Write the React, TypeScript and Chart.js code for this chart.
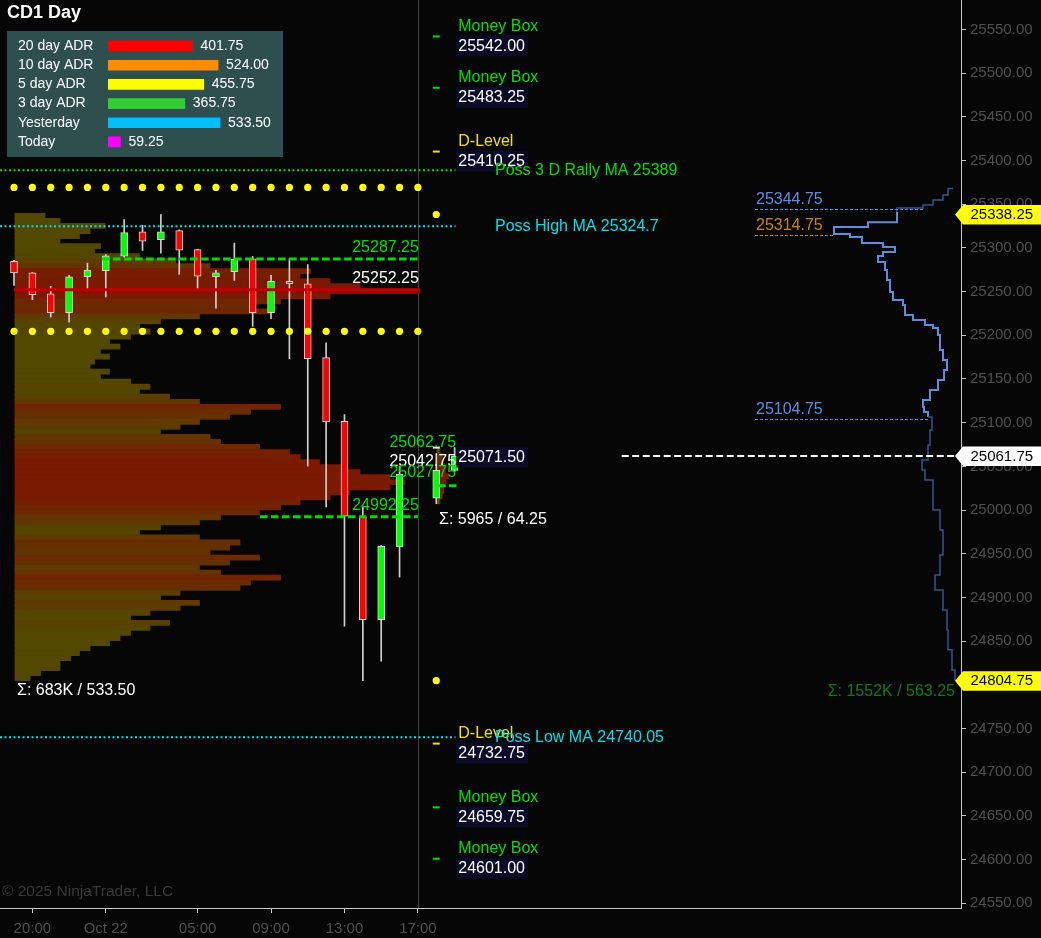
import React, { useEffect, useRef } from 'react';
import { Chart, registerables } from 'chart.js';

Chart.register(...registerables);

const FONT = '"Liberation Sans", Arial, Helvetica, sans-serif';

// ---------- axis ranges ----------
const Y_MIN = 24544.6;
const Y_MAX = 25583.7;
const X_MIN = -0.7625;
const X_MAX = 51.58;

// ---------- time axis ----------
const xTickIdx = [1, 5, 10, 14, 18, 22];
const xTickLabels = ['20:00', 'Oct 22', '05:00', '09:00', '13:00', '17:00'];
const SESSION_BREAK = 22;

// ---------- candles (hourly bars, index = bar slot) ----------
const candleIdx = [0, 1, 2, 3, 4, 5, 6, 7, 8, 9, 10, 11, 12, 13, 14, 15, 16, 17, 18, 19, 20, 21, 23, 24];
const opens = [25284.5, 25271.5, 25247.5, 25226.0, 25267.0, 25274.0, 25290.5, 25318.5, 25309.5, 25319.75, 25298.0, 25267.0, 25272.75, 25287.5, 25226.0, 25261.75, 25259.0, 25174.5, 25101.5, 24992.0, 24874.5, 24957.75, 25013.5, 25045.5];
const highs = [25285.75, 25272.0, 25256.0, 25268.5, 25282.5, 25292.5, 25332.5, 25325.75, 25338.25, 25320.75, 25298.5, 25274.25, 25305.5, 25290.25, 25268.5, 25287.5, 25281.0, 25191.5, 25109.25, 25003.0, 24959.5, 25050.0, 25064.75, 25071.5];
const lows = [25257.0, 25240.75, 25220.75, 25215.0, 25253.25, 25243.75, 25289.5, 25297.0, 25294.0, 25269.75, 25251.5, 25231.0, 25262.75, 25210.25, 25219.0, 25173.25, 25050.25, 25003.5, 24867.0, 24804.75, 24827.0, 24923.25, 25007.25, 25044.0];
const closes = [25271.5, 25246.5, 25226.0, 25267.0, 25274.25, 25291.0, 25317.5, 25307.75, 25318.5, 25297.5, 25267.75, 25271.5, 25287.0, 25226.0, 25261.75, 25259.0, 25173.25, 25100.75, 24993.0, 24874.5, 24958.5, 25041.0, 25045.5, 25061.75];

// ---------- prior high / low dots ----------
const dotIdx = [0, 1, 2, 3, 4, 5, 6, 7, 8, 9, 10, 11, 12, 13, 14, 15, 16, 17, 18, 19, 20, 21, 22, 23];
const dotHigh = [25369.25, 25369.25, 25369.25, 25369.25, 25369.25, 25369.25, 25369.25, 25369.25, 25369.25, 25369.25, 25369.25, 25369.25, 25369.25, 25369.25, 25369.25, 25369.25, 25369.25, 25369.25, 25369.25, 25369.25, 25369.25, 25369.25, 25369.25, 25338.25];
const dotLow = [25204.5, 25204.5, 25204.5, 25204.5, 25204.5, 25204.5, 25204.5, 25204.5, 25204.5, 25204.5, 25204.5, 25204.5, 25204.5, 25204.5, 25204.5, 25204.5, 25204.5, 25204.5, 25204.5, 25204.5, 25204.5, 25204.5, 25204.5, 24804.75];

// ---------- prior-session volume profile (K contracts per 5.75-pt row, top -> bottom) ----------
const PROFILE_LOW = 24804.75;
const PROFILE_ROW = 5.75;
const profileVolK = [
  2.0, 3.0, 6.0, 5.0, 4.3, 3.0, 5.7, 5.3, 8.3, 10.7,
  13.0, 19.7, 19.0, 21.0, 23.0, 27.0, 21.0, 17.7, 15.7, 17.0,
  12.3, 9.7, 8.3, 9.0, 7.7, 6.3, 7.0, 5.7, 6.3, 5.3,
  5.0, 6.3, 5.7, 7.7, 9.0, 8.3, 10.3, 12.3, 17.7, 15.7,
  14.3, 12.3, 11.0, 9.7, 13.0, 13.7, 16.3, 18.3, 19.0, 20.3,
  21.7, 23.0, 25.0, 26.0, 25.0, 22.3, 21.0, 19.0, 17.7, 16.3,
  13.7, 12.3, 9.7, 8.3, 12.3, 15.0, 14.3, 13.0, 16.3, 14.3,
  12.3, 13.7, 17.7, 15.7, 15.0, 11.0, 9.7, 12.3, 11.0, 9.0,
  7.7, 10.3, 9.0, 7.7, 7.0, 6.3, 5.0, 4.3, 3.7, 3.0,
  3.0, 1.7, 1.0,
];
// current-session profile
const CUR_LOW = 25007.25;
const curProfileVolK = [0.2, 0.35, 0.4, 0.5, 0.55, 0.75, 0.6, 0.45, 0.45, 0.35, 0.2];

// ---------- composite profile (right) ----------
const rpPrices = [25368.0, 25360.5, 25354.75, 25349.0, 25345.75, 25341.0, 25329.5, 25324.0, 25320.5, 25316.0, 25312.5, 25305.5, 25301.0, 25295.25, 25290.75, 25284.0, 25274.75, 25263.25, 25249.5, 25240.5, 25234.75, 25223.25, 25217.5, 25211.75, 25208.25, 25200.25, 25183.25, 25171.75, 25160.25, 25148.75, 25137.5, 25126.0, 25118.0, 25112.25, 25106.5, 25091.5, 25074.5, 25057.25, 25045.75, 25034.5, 25023.0, 25000.0, 24977.25, 24948.5, 24925.75, 24908.5, 24885.5, 24862.75, 24840.0, 24817.0, 24804.75];
const rpVolK = [4, 6.5, 9, 14, 19, 32, 32, 46.5, 63.5, 63.5, 55.5, 49.5, 39, 33, 39, 41.5, 38, 37, 35.5, 34, 29, 28, 24, 18, 14, 11.5, 10.5, 9, 7, 8.5, 11.5, 15.5, 19, 18.5, 16.5, 14.5, 15.5, 16.5, 19.5, 18, 14, 14, 10.5, 9, 10.5, 13, 9, 7, 6.5, 4.5, 3];
const RP_VAH = 25344.75;
const RP_POC = 25314.75;
const RP_VAL = 25104.75;

// ---------- levels ----------
const levelValues = [25542.0, 25483.25, 25410.25, 24732.75, 24659.75, 24601.0, 25071.5];
const levelTitles = ['Money Box', 'Money Box', 'D-Level', 'D-Level', 'Money Box', 'Money Box', ''];
const LEVEL_IDX = 23;

const maValues = [25389, 25324.7, 24740.05];
const maLabels = ['Poss 3 D Rally MA 25389', 'Poss High MA 25324.7', 'Poss Low MA 24740.05'];

const prevVAH = 25287.25;
const prevPOC = 25252.25;
const prevVAL = 24992.25;
const curVAH = 25062.75;
const curPOC = 25042.75;
const curVAL = 25027.75;
const LAST_PRICE = 25061.75;

const flagValues = [25338.25, 25061.75, 24804.75];

// ---------- ADR table ----------
const adrLabels = ['20 day ADR', '10 day ADR', '5 day ADR', '3 day ADR', 'Yesterday', 'Today'];
const adrValues = [401.75, 524.0, 455.75, 365.75, 533.5, 59.25];

// ---------- styles ----------
const UP = '#00ff00';
const DOWN = '#ff0000';
const WICK = '#cfcfcf';
const GREEN = '#00e000';
const YELLOW = '#f2e200';
const CYAN = '#00e0ea';
const RP_BRIGHT = '#5b8ee0';
const RP_DARK = '#34558f';
const RP_ORANGE = '#c8860a';
const AXIS_COL = '#c8c8c8';
const TICK_TEXT = '#505050';
const adrColors = ['#ff0000', '#ff8c00', '#ffff00', '#32cd32', '#00bfff', '#ff00ff'];
const maColors = [GREEN, CYAN, CYAN];
const flagFill = ['#ffff00', '#ffffff', '#ffff00'];

const fmt = (v: number) => v.toFixed(2);

function heat(v: number, vmax: number, poc: boolean) {
  if (poc) return 'rgb(140,12,0)';
  const t = Math.max(0, Math.min(1, (v / vmax - 0.3) / 0.45));
  const r = Math.round(82 + 40 * t);
  const g = Math.round(72 - 46 * t);
  return `rgb(${r},${g},0)`;
}

function levelColor(i: number) {
  if (levelTitles[i] === 'Money Box') return GREEN;
  if (levelTitles[i] === 'D-Level') return YELLOW;
  return '#ffffff';
}

function drawText(ctx: CanvasRenderingContext2D, s: string, x: number, y: number, color: string, align: CanvasTextAlign = 'left', font = `16px ${FONT}`) {
  ctx.font = font;
  ctx.fillStyle = color;
  ctx.textAlign = align;
  ctx.textBaseline = 'middle';
  ctx.fillText(s, x, y);
}

function hline(y: number, x0: number, x1: number, color: string, width: number, dash: number[], order = 2) {
  return {
    type: 'line', xAxisID: 'x', yAxisID: 'y',
    data: [{ x: x0, y }, { x: x1, y }],
    borderColor: color, borderWidth: width, borderDash: dash,
    pointRadius: 0, fill: false, order,
  };
}

const overlayPlugin = {
  id: 'overlay',
  beforeDatasetsDraw(chart: any) {
    const ctx = chart.ctx as CanvasRenderingContext2D;
    const xs = chart.scales.x;
    const px = Math.round(xs.getPixelForValue(SESSION_BREAK)) + 0.5;
    ctx.save();
    ctx.strokeStyle = '#3f3f3f';
    ctx.lineWidth = 1;
    ctx.beginPath();
    ctx.moveTo(px, 0);
    ctx.lineTo(px, chart.chartArea.bottom);
    ctx.stroke();
    ctx.restore();
  },
  afterDraw(chart: any) {
    const ctx = chart.ctx as CanvasRenderingContext2D;
    const xs = chart.scales.x, ys = chart.scales.y, xv = chart.scales.xv, xp = chart.scales.xp;
    const X = (i: number) => xs.getPixelForValue(i);
    const Y = (v: number) => ys.getPixelForValue(v);
    ctx.save();

    drawText(ctx, 'CD1 Day', 7, 13, '#ffffff', 'left', `bold 18px ${FONT}`);
    drawText(ctx, '\u00A9 2025 NinjaTrader, LLC', 2, 892, '#3a3a3a', 'left', `15.5px ${FONT}`);

    levelValues.forEach((v, i) => {
      const y = Y(v);
      const x0 = X(LEVEL_IDX) + 20;
      if (levelTitles[i]) drawText(ctx, levelTitles[i], x0 + 2, y - 10, levelColor(i));
      ctx.font = `16px ${FONT}`;
      const w = ctx.measureText(fmt(v)).width;
      ctx.fillStyle = '#0b0b28';
      ctx.fillRect(x0, y - 1, w + 5, 21);
      drawText(ctx, fmt(v), x0 + 2, y + 10, '#ffffff');
    });

    maValues.forEach((v, i) => drawText(ctx, maLabels[i], X(26.2), Y(v), maColors[i]));

    const pr = X(SESSION_BREAK) + 1;
    drawText(ctx, fmt(prevVAH), pr, Y(prevVAH) - 11, GREEN, 'right');
    drawText(ctx, fmt(prevPOC), pr, Y(prevPOC) - 11, '#ffffff', 'right');
    drawText(ctx, fmt(prevVAL), pr, Y(prevVAL) - 11.5, GREEN, 'right');
    const cr = X(24) + 1.5;
    drawText(ctx, fmt(curVAH), cr, Y(curVAH) - 13, GREEN, 'right');
    drawText(ctx, fmt(curPOC), cr, Y(curPOC) - 11, '#ffffff', 'right');
    drawText(ctx, fmt(curVAL), cr, Y(curVAL) - 13, GREEN, 'right');

    drawText(ctx, '\u03A3: 683K / 533.50', xp.getPixelForValue(0) + 2, Y(PROFILE_LOW) + 10, '#ffffff');
    drawText(ctx, '\u03A3: 5965 / 64.25', X(23.15), Y(CUR_LOW) + 16, '#ffffff');
    drawText(ctx, '\u03A3: 1552K / 563.25', xv.getPixelForValue(3), Y(rpPrices[rpPrices.length - 1]) + 11, '#147a14', 'right');

    const rpLevels = [RP_VAH, RP_POC, RP_VAL];
    const rpColors = [RP_BRIGHT, RP_ORANGE, RP_BRIGHT];
    rpLevels.forEach((v, i) => {
      let best = 0;
      rpPrices.forEach((p, k) => { if (Math.abs(p - v) < Math.abs(rpPrices[best] - v)) best = k; });
      const y = Math.round(Y(v)) + 0.5;
      const xs0 = xv.getPixelForValue(103);
      const xe = xv.getPixelForValue(rpVolK[best]);
      ctx.strokeStyle = rpColors[i];
      ctx.lineWidth = 1;
      ctx.setLineDash([3, 2]);
      ctx.beginPath();
      ctx.moveTo(xs0, y);
      ctx.lineTo(xe, y);
      ctx.stroke();
      ctx.setLineDash([]);
      drawText(ctx, fmt(v), xs0 + 1, y - 10, rpColors[i]);
    });

    flagValues.forEach((v, i) => {
      const y = Y(v);
      const xl = ys.left - 6;
      const xr = chart.width;
      ctx.fillStyle = flagFill[i];
      ctx.beginPath();
      ctx.moveTo(xl, y);
      ctx.lineTo(xl + 8, y - 9.5);
      ctx.lineTo(xr, y - 9.5);
      ctx.lineTo(xr, y + 10);
      ctx.lineTo(xl + 8, y + 10);
      ctx.closePath();
      ctx.fill();
      drawText(ctx, fmt(v), ys.left + 9.5, y + 0.5, '#000000', 'left', `15px ${FONT}`);
    });

    ctx.restore();
  },
};

function buildMain(): any {
  const rowPrices = profileVolK.map((_, k) => PROFILE_LOW + (profileVolK.length - k - 0.5) * PROFILE_ROW);
  const vmax = Math.max(...profileVolK);
  const pocRow = profileVolK.indexOf(vmax);
  const curRowPrices = curProfileVolK.map((_, k) => CUR_LOW + (curProfileVolK.length - k - 0.5) * PROFILE_ROW);
  const cmax = Math.max(...curProfileVolK);
  const curPocRow = curProfileVolK.indexOf(cmax);
  const inVA = (p: number) => p <= RP_VAH + 0.01 && p >= RP_VAL - 0.01;

  const datasets: any[] = [
    // prior-session profile (behind candles)
    {
      type: 'bar', indexAxis: 'y', xAxisID: 'xp', yAxisID: 'yp',
      data: profileVolK.map((v, k) => ({ x: v, y: rowPrices[k] })),
      backgroundColor: profileVolK.map((v, k) => heat(v, vmax, k === pocRow)),
      borderWidth: 0, barPercentage: 1, categoryPercentage: 1, grouped: false, inflateAmount: 0.4, order: 10,
    },
    {
      type: 'bar', indexAxis: 'y', xAxisID: 'xc', yAxisID: 'yc',
      data: curProfileVolK.map((v, k) => ({ x: v, y: curRowPrices[k] })),
      backgroundColor: curProfileVolK.map((v, k) => heat(v, cmax, k === curPocRow)),
      borderWidth: 0, barPercentage: 1, categoryPercentage: 1, grouped: false, inflateAmount: 0.4, order: 10,
    },
    // wicks
    {
      type: 'bar', xAxisID: 'x', yAxisID: 'y',
      data: candleIdx.map((x, i) => ({ x, y: [lows[i], highs[i]] })),
      backgroundColor: WICK, borderWidth: 0, barThickness: 1, grouped: false, order: 9,
    },
    // bodies
    {
      type: 'bar', xAxisID: 'x', yAxisID: 'y',
      data: candleIdx.map((x, i) => ({ x, y: [opens[i], closes[i]] })),
      backgroundColor: candleIdx.map((_, i) => (closes[i] >= opens[i] ? UP : DOWN)),
      borderColor: '#d8d8d8', borderWidth: 1, borderSkipped: false,
      barThickness: 7, grouped: false, order: 8,
    },
    // level lines
    hline(prevPOC, 0, SESSION_BREAK, '#c00000', 3, []),
    hline(prevVAH, 4.8, SESSION_BREAK, GREEN, 3, [7.5, 3.5]),
    hline(prevVAL, 13.4, SESSION_BREAK, GREEN, 3, [7.5, 3.5]),
    hline(curVAL, 23.1, 24.1, GREEN, 3, [7.5, 3.5]),
    ...maValues.map((v, i) => hline(v, X_MIN, 24.05, maColors[i], 2, [2, 2.5])),
    hline(LAST_PRICE, 33.1, X_MAX, '#ffffff', 2, [7, 3.5]),
    // composite profile line
    {
      type: 'line', xAxisID: 'xv', yAxisID: 'y',
      data: rpPrices.map((p, i) => ({ x: rpVolK[i], y: p })),
      stepped: 'before', pointRadius: 0, borderWidth: 2, borderColor: RP_BRIGHT, fill: false,
      segment: {
        borderColor: (c: any) => (inVA(c.p0.parsed.y) && inVA(c.p1.parsed.y) ? RP_BRIGHT : RP_DARK),
        borderWidth: (c: any) => (inVA(c.p0.parsed.y) && inVA(c.p1.parsed.y) ? 2 : 1.5),
      },
      order: 2,
    },
    // prior high / low dots
    {
      type: 'line', xAxisID: 'x', yAxisID: 'y', showLine: false,
      data: dotIdx.map((x, i) => ({ x, y: dotHigh[i] })),
      pointRadius: 3.6, pointBackgroundColor: '#ffff00', pointBorderWidth: 0, order: 1,
    },
    {
      type: 'line', xAxisID: 'x', yAxisID: 'y', showLine: false,
      data: dotIdx.map((x, i) => ({ x, y: dotLow[i] })),
      pointRadius: 3.6, pointBackgroundColor: '#ffff00', pointBorderWidth: 0, order: 1,
    },
    // level markers
    {
      type: 'line', xAxisID: 'x', yAxisID: 'y', showLine: false,
      data: levelValues.map((v) => ({ x: LEVEL_IDX, y: v })),
      pointStyle: 'line', pointRadius: 3.5, pointBorderWidth: 2,
      pointBorderColor: levelValues.map((_, i) => levelColor(i)),
      pointBackgroundColor: 'rgba(0,0,0,0)', order: 1,
    },
  ];

  const tickFont = { family: FONT, size: 15 };

  return {
    type: 'bar',
    data: { datasets },
    options: {
      responsive: false,
      animation: false,
      devicePixelRatio: 1,
      events: [],
      layout: { padding: 0, autoPadding: false },
      plugins: { legend: { display: false }, tooltip: { enabled: false } },
      scales: {
        x: {
          type: 'linear', axis: 'x', position: 'bottom', min: X_MIN, max: X_MAX, offset: false,
          afterFit: (s: any) => { s.height = 30; s.paddingLeft = 0; s.paddingRight = 0; },
          afterBuildTicks: (s: any) => { s.ticks = xTickIdx.map((value) => ({ value })); },
          ticks: {
            autoSkip: false, maxRotation: 0, minRotation: 0, color: TICK_TEXT, font: tickFont, padding: 7,
            callback: (v: any) => { const k = xTickIdx.indexOf(Number(v)); return k >= 0 ? xTickLabels[k] : ''; },
          },
          grid: { drawOnChartArea: false, drawTicks: true, tickLength: 5, color: AXIS_COL, offset: false },
          border: { display: true, color: AXIS_COL, width: 1 },
        },
        y: {
          type: 'linear', axis: 'y', position: 'right', min: Y_MIN, max: Y_MAX, offset: false,
          afterFit: (s: any) => { s.width = 80; s.paddingTop = 0; s.paddingBottom = 0; },
          ticks: {
            stepSize: 50, includeBounds: false, color: TICK_TEXT, font: tickFont, padding: 4,
            callback: (v: any) => Number(v).toFixed(2),
          },
          grid: { drawOnChartArea: false, drawTicks: true, tickLength: 5, color: AXIS_COL, offset: false },
          border: { display: true, color: AXIS_COL, width: 1 },
        },
        xp: { type: 'linear', axis: 'x', display: false, min: -1, max: 63.07, offset: false },
        yp: { type: 'linear', axis: 'y', display: false, min: Y_MIN, max: Y_MAX, offset: false },
        xc: { type: 'linear', axis: 'x', display: false, min: -29.13, max: 34.94, offset: false },
        yc: { type: 'linear', axis: 'y', display: false, min: Y_MIN, max: Y_MAX, offset: false },
        xv: { type: 'linear', axis: 'x', display: false, reverse: true, min: 0, max: 480.5, offset: false },
      },
    },
    plugins: [overlayPlugin],
  };
}

function buildLegend(): any {
  return {
    type: 'bar',
    data: {
      labels: adrLabels,
      datasets: [{ data: adrValues, backgroundColor: adrColors, borderWidth: 0, barThickness: 10 }],
    },
    options: {
      indexAxis: 'y',
      responsive: false,
      animation: false,
      devicePixelRatio: 1,
      events: [],
      layout: { padding: { left: 11, right: 0, top: 5.5, bottom: 5.5 }, autoPadding: false },
      plugins: { legend: { display: false }, tooltip: { enabled: false } },
      scales: {
        x: { display: false, min: 0, max: 833 },
        y: {
          afterFit: (s: any) => { s.width = 90; s.paddingTop = 0; s.paddingBottom = 0; },
          grid: { display: false, drawTicks: false },
          border: { display: false },
          ticks: { autoSkip: false, color: '#ffffff', crossAlign: 'far', padding: 0, font: { family: FONT, size: 14 } },
        },
      },
    },
    plugins: [
      {
        id: 'adrValues',
        afterDatasetsDraw(chart: any) {
          const ctx = chart.ctx as CanvasRenderingContext2D;
          const meta = chart.getDatasetMeta(0);
          ctx.save();
          meta.data.forEach((bar: any, i: number) => {
            drawText(ctx, adrValues[i].toFixed(2), bar.x + 8, bar.y, '#ffffff', 'left', `14px ${FONT}`);
          });
          ctx.restore();
        },
      },
    ],
  };
}

export default function App() {
  const mainRef = useRef<HTMLCanvasElement>(null);
  const legRef = useRef<HTMLCanvasElement>(null);

  useEffect(() => {
    const c1 = new Chart(mainRef.current as HTMLCanvasElement, buildMain());
    const c2 = new Chart(legRef.current as HTMLCanvasElement, buildLegend());
    return () => {
      c1.destroy();
      c2.destroy();
    };
  }, []);

  return (
    <div style={{ position: 'fixed', left: 0, top: 0, width: 1041, height: 938, background: '#060606', overflow: 'hidden' }}>
      <canvas ref={mainRef} width={1041} height={938} style={{ position: 'absolute', left: 0, top: 0, width: 1041, height: 938 }} />
      <div style={{ position: 'absolute', left: 7, top: 31, width: 276, height: 126, background: '#2f4f4f' }}>
        <canvas ref={legRef} width={276} height={126} style={{ display: 'block', width: 276, height: 126 }} />
      </div>
    </div>
  );
}
